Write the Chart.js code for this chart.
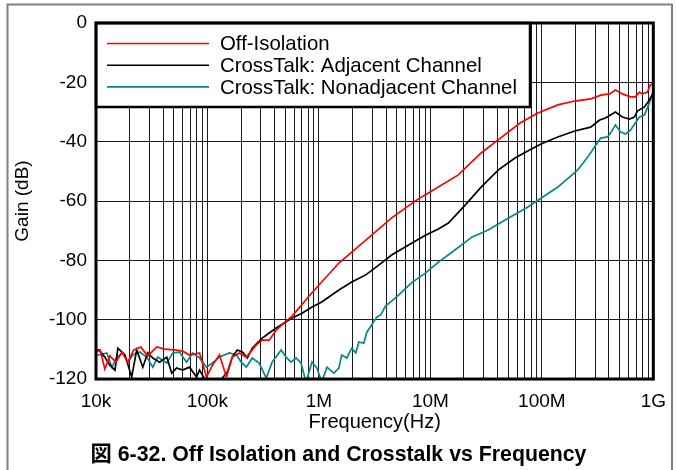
<!DOCTYPE html>
<html>
<head>
<meta charset="utf-8">
<script src="https://cdn.jsdelivr.net/npm/chart.js@4.4.1/dist/chart.umd.min.js"></script>
<style>
  html, body { margin: 0; padding: 0; background: #fff; }
  canvas { display: block; }
</style>
</head>
<body>
<canvas id="grafico" width="677" height="470"></canvas>
<script>
// valores (frecuencia en Hz, ganancia en dB)
const freqOff = [1.00e4, 1.09e4, 1.20e4, 1.33e4, 1.51e4, 1.71e4, 1.93e4, 2.18e4, 2.52e4, 2.91e4,
  3.51e4, 4.13e4, 5.07e4, 5.98e4, 6.90e4, 8.49e4, 9.80e4, 1.11e5, 1.28e5, 1.48e5,
  1.67e5, 1.93e5, 2.23e5, 2.74e5, 3.10e5, 3.58e5, 4.13e5, 4.88e5, 5.74e5, 6.62e5,
  8.15e5, 1.00e6, 1.23e6, 1.51e6, 1.97e6, 2.97e6, 4.49e6, 7.50e6, 9.59e6, 1.78e7,
  2.85e7, 4.05e7, 6.37e7, 9.20e7, 1.39e8, 1.97e8, 2.74e8, 3.37e8, 4.05e8, 4.58e8,
  5.28e8, 6.24e8, 6.90e8, 7.50e8, 7.98e8, 8.83e8, 9.40e8, 1.00e9];
const gainOff = [-110.9, -110.2, -116.6, -112.2, -114.3, -110.9, -114.3, -110.2, -109.2, -112.2,
  -109.2, -109.9, -110.2, -110.6, -111.9, -111.2, -119.3, -115.3, -111.9, -119.3,
  -112.6, -111.2, -112.6, -108.5, -106.9, -106.9, -103.5, -101.1, -98.8, -96.1,
  -92.0, -88.3, -84.6, -80.9, -77.2, -71.5, -65.7, -59.7, -57.3, -51.2,
  -43.8, -39.4, -33.7, -30.3, -27.6, -26.3, -25.6, -24.3, -23.9, -22.6,
  -23.9, -24.9, -24.9, -23.3, -23.9, -23.3, -20.9, -20.5];

const freqAdj = [1.00e4, 1.06e4, 1.20e4, 1.33e4, 1.48e4, 1.57e4, 1.82e4, 2.09e4, 2.32e4, 2.63e4,
  2.91e4, 3.23e4, 3.72e4, 4.31e4, 4.78e4, 5.28e4, 5.98e4, 6.90e4, 7.98e4, 8.49e4,
  9.80e4, 1.16e5, 1.36e5, 1.51e5, 1.67e5, 1.85e5, 2.06e5, 2.28e5, 2.52e5, 2.79e5,
  3.10e5, 3.58e5, 4.13e5, 4.88e5, 5.74e5, 7.05e5, 8.67e5, 1.06e6, 1.51e6, 1.97e6,
  2.63e6, 3.44e6, 4.49e6, 6.37e6, 9.02e6, 1.18e7, 1.45e7, 2.06e7, 2.85e7, 4.05e7,
  5.74e7, 7.19e7, 9.80e7, 1.39e8, 1.97e8, 2.74e8, 3.30e8, 3.72e8, 4.58e8, 5.28e8,
  6.11e8, 6.76e8, 7.19e8, 8.32e8, 9.20e8, 1.00e9];
const gainAdj = [-110.2, -110.2, -112.6, -115.3, -117.0, -109.6, -111.9, -119.3, -110.2, -116.0,
  -111.2, -112.9, -114.3, -112.6, -118.0, -116.3, -117.0, -116.0, -119.3, -117.0,
  -121.0, -122.0, -119.7, -117.6, -112.6, -110.2, -110.9, -112.9, -109.6, -107.9,
  -106.2, -104.5, -102.8, -101.1, -99.4, -97.8, -95.7, -94.0, -90.0, -87.3,
  -84.9, -81.6, -78.2, -74.8, -71.5, -69.4, -67.4, -61.3, -55.3, -49.6,
  -45.5, -43.5, -40.8, -38.4, -36.4, -35.1, -32.7, -32.0, -30.0, -31.7,
  -32.4, -31.7, -29.7, -28.3, -26.0, -23.6];

const freqNonAdj = [1.00e4, 1.06e4, 1.25e4, 1.39e4, 1.54e4, 1.74e4, 1.93e4, 2.14e4, 2.47e4, 2.85e4,
  3.23e4, 3.58e4, 4.31e4, 4.88e4, 5.62e4, 6.50e4, 7.35e4, 8.49e4, 9.80e4, 1.11e5,
  1.28e5, 1.57e5, 1.82e5, 2.01e5, 2.23e5, 2.52e5, 2.91e5, 3.37e5, 3.80e5, 4.58e5,
  5.07e5, 5.62e5, 6.24e5, 6.90e5, 7.66e5, 8.67e5, 9.59e5, 1.06e6, 1.18e6, 1.36e6,
  1.51e6, 1.60e6, 1.78e6, 1.97e6, 2.14e6, 2.28e6, 2.52e6, 2.69e6, 2.97e6, 3.30e6,
  3.58e6, 3.96e6, 4.40e6, 5.18e6, 6.76e6, 9.02e6, 1.18e7, 1.57e7, 2.37e7, 3.30e7,
  4.68e7, 7.50e7, 1.39e8, 2.09e8, 2.58e8, 2.97e8, 3.37e8, 3.88e8, 4.13e8, 4.58e8,
  5.07e8, 5.62e8, 6.24e8, 6.90e8, 7.50e8, 8.32e8, 8.83e8, 9.40e8, 1.00e9];
const gainNonAdj = [-111.9, -111.9, -111.2, -116.0, -112.6, -111.2, -114.3, -111.9, -110.9, -112.6,
  -116.0, -112.6, -114.6, -111.2, -110.9, -114.3, -111.2, -112.9, -116.0, -114.6,
  -112.6, -111.2, -111.9, -114.3, -116.0, -112.9, -114.6, -119.7, -114.3, -110.2,
  -112.6, -114.3, -112.9, -114.6, -121.0, -114.3, -116.3, -121.0, -116.0, -118.0,
  -116.3, -111.9, -112.9, -109.6, -111.2, -107.5, -107.9, -104.2, -101.8, -99.1,
  -98.4, -95.4, -94.0, -91.7, -87.6, -84.3, -80.6, -77.2, -72.1, -69.8,
  -66.4, -62.0, -55.3, -49.6, -45.2, -41.8, -38.8, -38.4, -37.1, -34.4,
  -36.7, -37.4, -36.1, -33.7, -31.7, -31.0, -28.7, -26.0, -23.0];

const decadas = [1e4, 1e5, 1e6, 1e7, 1e8, 1e9];
const etiquetasDecada = ['10k', '100k', '1M', '10M', '100M', '1G'];
const series = ['Off-Isolation', 'CrossTalk: Adjacent Channel', 'CrossTalk: Nonadjacent Channel'];

const fuente = '"Liberation Sans", Arial, "Noto Sans CJK JP", sans-serif';

function puntos(fs, gs) {
  return fs.map((f, i) => ({ x: f, y: gs[i] }));
}

// marco gris exterior
const marco = {
  id: 'marco',
  beforeDraw(chart) {
    const c = chart.ctx;
    c.save();
    c.strokeStyle = '#808080';
    c.lineWidth = 2;
    c.beginPath();
    c.moveTo(7.5, 470); c.lineTo(7.5, 4.5); c.lineTo(672, 4.5); c.lineTo(672, 470);
    c.stroke();
    c.restore();
  }
};

// leyenda en caja blanca dentro del área
const leyenda = {
  id: 'leyenda',
  afterDatasetsDraw(chart) {
    const c = chart.ctx;
    const a = chart.chartArea;
    c.save();
    c.fillStyle = '#fff';
    c.fillRect(a.left, a.top, 434, 84);
    c.strokeStyle = '#000';
    c.lineWidth = 2.5;
    c.strokeRect(a.left, a.top, 434, 84);
    c.font = '20.4px ' + fuente;
    c.textBaseline = 'middle';
    chart.data.datasets.forEach((ds, i) => {
      const y = a.top + 20.5 + i * 21.7;
      c.strokeStyle = ds.borderColor;
      c.lineWidth = 1.6;
      c.beginPath();
      c.moveTo(a.left + 11, y);
      c.lineTo(a.left + 113, y);
      c.stroke();
      c.fillStyle = '#000';
      c.fillText(ds.label, a.left + 124, y + 1);
    });
    c.restore();
  },
  afterDraw(chart) {
    const c = chart.ctx;
    const a = chart.chartArea;
    c.save();
    c.strokeStyle = '#000';
    c.lineWidth = 3;
    c.strokeRect(a.left, a.top, a.right - a.left, a.bottom - a.top);
    c.restore();
  }
};

const grafico = new Chart(document.getElementById('grafico').getContext('2d'), {
  type: 'line',
  data: {
    datasets: [
      { label: series[0], data: puntos(freqOff, gainOff), borderColor: '#ff0000' },
      { label: series[1], data: puntos(freqAdj, gainAdj), borderColor: '#000000' },
      { label: series[2], data: puntos(freqNonAdj, gainNonAdj), borderColor: '#0a8585' }
    ]
  },
  options: {
    responsive: false,
    animation: false,
    devicePixelRatio: 1,
    layout: { padding: { left: 0, top: 23, right: 0, bottom: 0 } },
    elements: {
      line: { borderWidth: 1.7, tension: 0, fill: false },
      point: { radius: 0 }
    },
    plugins: {
      legend: { display: false },
      tooltip: { enabled: false },
      title: {
        display: true,
        position: 'bottom',
        text: '図 6-32. Off Isolation and Crosstalk vs Frequency',
        color: '#000',
        font: { family: fuente, size: 21.3, weight: 'bold', lineHeight: 1.2 },
        padding: { top: 8, bottom: 2.4 }
      }
    },
    scales: {
      x: {
        type: 'logarithmic',
        min: 1e4,
        max: 1e9,
        afterFit: s => { s.height = 55; },
        afterBuildTicks: s => {
          const t = [];
          decadas.forEach((d, i) => {
            const n = i < decadas.length - 1 ? 9 : 1;
            for (let m = 1; m <= n; m++) t.push({ value: d * m });
          });
          s.ticks = t;
        },
        border: { display: false },
        grid: { color: '#1a1a1a', lineWidth: 1, drawTicks: false },
        ticks: {
          autoSkip: false,
          maxRotation: 0,
          minRotation: 0,
          padding: 11,
          color: '#000',
          font: { family: fuente, size: 19 },
          callback: v => {
            const i = decadas.findIndex(d => Math.abs(v - d) < d * 1e-6);
            return i >= 0 ? etiquetasDecada[i] : '';
          }
        },
        title: {
          display: true,
          text: 'Frequency(Hz)',
          color: '#000',
          font: { family: fuente, size: 20, lineHeight: 1.2 },
          padding: { top: 0, bottom: 0 }
        }
      },
      y: {
        min: -120,
        max: 0,
        afterFit: s => { s.width = 96; },
        border: { display: false },
        grid: { color: '#1a1a1a', lineWidth: 1, drawTicks: false },
        ticks: {
          stepSize: 20,
          padding: 9,
          color: '#000',
          font: { family: fuente, size: 19 }
        },
        title: {
          display: true,
          text: 'Gain (dB)',
          color: '#000',
          font: { family: fuente, size: 19, lineHeight: 1.2 },
          padding: { top: 11, bottom: 0 }
        }
      },
      // eje vacío a la derecha, solo reserva margen
      margenDer: {
        type: 'linear',
        position: 'right',
        min: 0,
        max: 1,
        afterFit: s => { s.width = 21; },
        border: { display: false },
        grid: { display: false },
        ticks: { display: false }
      }
    }
  },
  plugins: [marco, leyenda]
});
</script>
</body>
</html>
